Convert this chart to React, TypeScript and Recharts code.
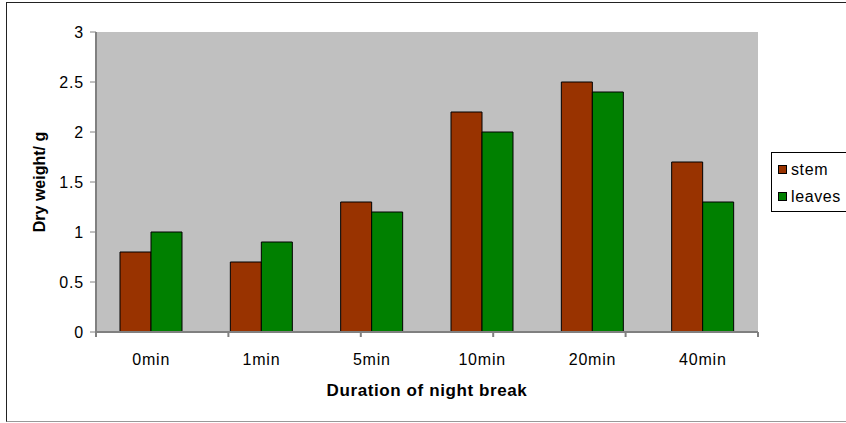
import { Bar, BarChart, CartesianGrid, XAxis, YAxis } from "recharts";

const CATEGORIES = ["0min", "1min", "5min", "10min", "20min", "40min"];
const STEM = [0.8, 0.7, 1.3, 2.2, 2.5, 1.7];
const LEAVES = [1.0, 0.9, 1.2, 2.0, 2.4, 1.3];
const Y_TICKS = [0, 0.5, 1, 1.5, 2, 2.5, 3];
const BOUNDARY_TICKS = [0, 1, 2, 3, 4, 5, 6];

const FONT = "'Liberation Sans', Arial, sans-serif";
const AXIS_GRAY = "#808080";

const data = CATEGORIES.map((c, i) => ({ name: c, stem: STEM[i], leaves: LEAVES[i] }));

const LEGEND_ITEMS = [
  { label: "stem", color: "#993300" },
  { label: "leaves", color: "#008000" },
];

const tickStyle = { fontSize: 16, fill: "#000", letterSpacing: 0.8 };

function LegendBox() {
  return (
    <div
      style={{
        position: "absolute",
        left: 771,
        top: 152,
        width: 90,
        height: 60,
        border: "1px solid #000",
        background: "#fff",
        padding: "3px 0 0 6px",
        boxSizing: "border-box",
        fontFamily: FONT,
        fontSize: 16,
        letterSpacing: 0.6,
      }}
    >
      {LEGEND_ITEMS.map((it) => (
        <div key={it.label} style={{ display: "flex", alignItems: "center", height: 27 }}>
          <span
            style={{
              display: "inline-block",
              width: 7,
              height: 7,
              background: it.color,
              border: "1px solid #000",
              marginRight: 4,
            }}
          />
          <span>{it.label}</span>
        </div>
      ))}
    </div>
  );
}

export default function App() {
  return (
    <div
      style={{
        position: "absolute",
        left: 0,
        top: 0,
        width: 846,
        height: 423,
        overflow: "hidden",
        background: "#fff",
      }}
    >
      <div
        style={{
          position: "absolute",
          left: 6,
          top: 2,
          width: 900,
          height: 418,
          border: "1px solid #222",
          borderBottomColor: "#999",
        }}
      />
      <BarChart
        width={846}
        height={423}
        data={data}
        margin={{ top: 32, right: 88, bottom: 30, left: 46 }}
        barCategoryGap={24}
        barGap={0}
        style={{ position: "absolute", left: 0, top: 0, fontFamily: FONT }}
      >
        <CartesianGrid xAxisId="b" fill="#C0C0C0" horizontal={false} vertical={false} />
        <XAxis
          xAxisId="a"
          type="number"
          domain={[0, 6]}
          ticks={BOUNDARY_TICKS}
          height={1}
          tick={{ fontSize: 0 }}
          tickFormatter={() => ""}
          tickSize={5}
          tickLine={{ stroke: AXIS_GRAY, strokeWidth: 2 }}
          axisLine={{ stroke: AXIS_GRAY, strokeWidth: 2 }}
        />
        <XAxis
          xAxisId="b"
          dataKey="name"
          height={60}
          tickLine={false}
          axisLine={false}
          tickSize={0}
          tickMargin={21}
          tick={tickStyle}
          interval={0}
          label={{
            value: "Duration of night break",
            position: "insideBottom",
            offset: -3,
            style: { fontSize: 17, fontWeight: "bold", fill: "#000", letterSpacing: 0.6 },
          }}
        />
        <XAxis
          xAxisId="top"
          orientation="top"
          type="number"
          domain={[0, 6]}
          height={0}
          tick={false}
          tickLine={false}
          axisLine={{ stroke: AXIS_GRAY, strokeWidth: 2 }}
        />
        <YAxis
          yAxisId="left"
          domain={[0, 3]}
          ticks={Y_TICKS}
          width={50}
          tickSize={6}
          tickMargin={6}
          tick={tickStyle}
          tickLine={{ stroke: AXIS_GRAY, strokeWidth: 1 }}
          axisLine={{ stroke: AXIS_GRAY, strokeWidth: 2 }}
          label={{
            value: "Dry weight/ g",
            angle: -90,
            position: "left",
            offset: 7,
            style: { fontSize: 16, fontWeight: "bold", fill: "#000", textAnchor: "middle" },
          }}
        />
        <YAxis
          yAxisId="right"
          orientation="right"
          domain={[0, 3]}
          width={0}
          tick={false}
          tickLine={false}
          axisLine={{ stroke: AXIS_GRAY, strokeWidth: 2 }}
        />
        <Bar
          xAxisId="b"
          yAxisId="left"
          dataKey="stem"
          fill="#993300"
          stroke="#000"
          strokeWidth={1}
          isAnimationActive={false}
        />
        <Bar
          xAxisId="b"
          yAxisId="left"
          dataKey="leaves"
          fill="#008000"
          stroke="#000"
          strokeWidth={1}
          isAnimationActive={false}
        />
      </BarChart>
      <LegendBox />
    </div>
  );
}
